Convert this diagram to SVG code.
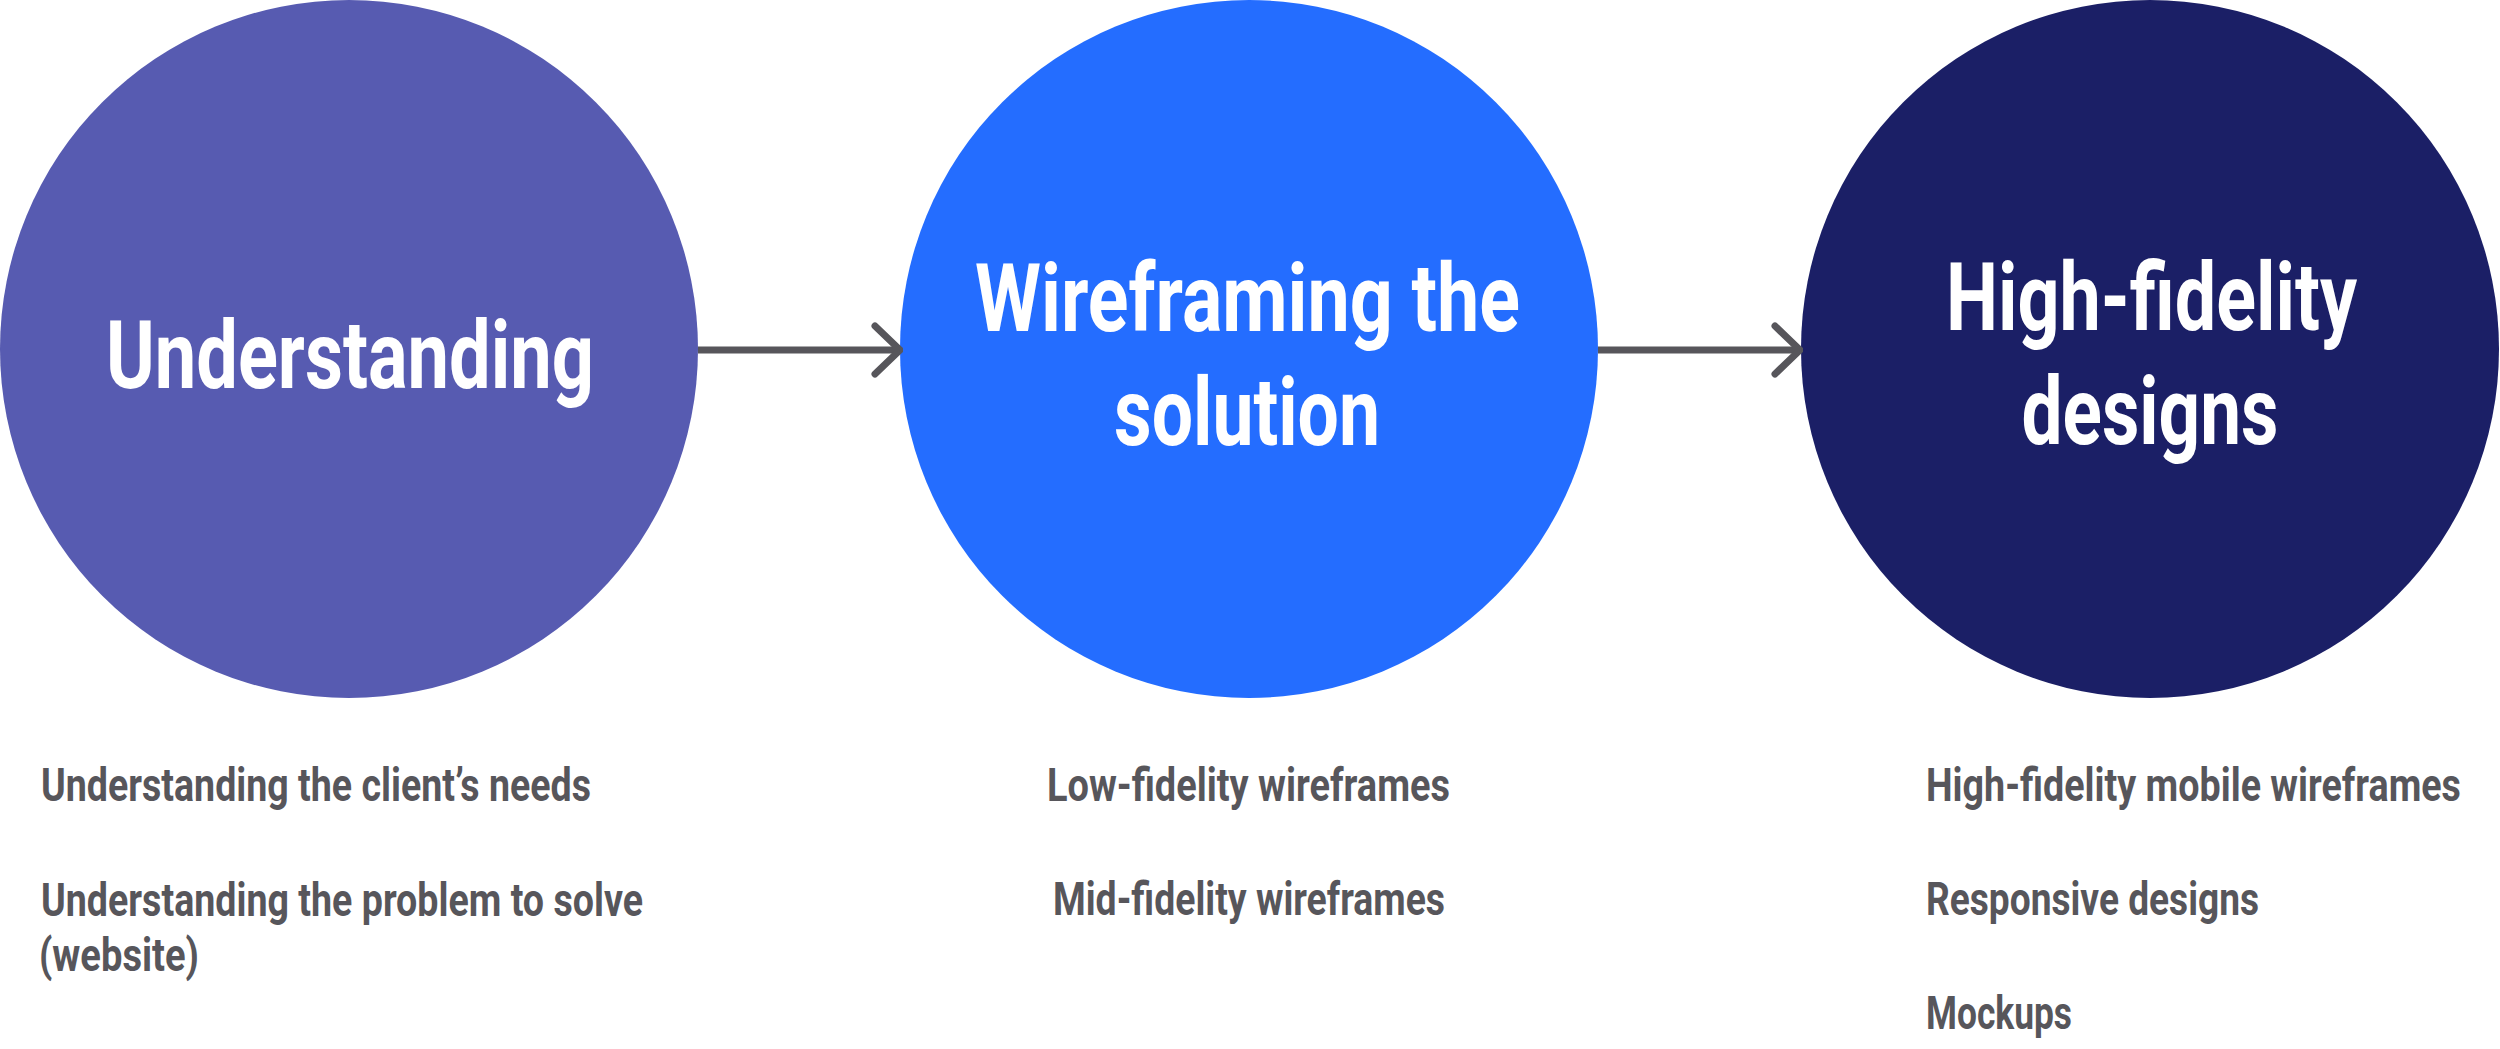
<svg xmlns="http://www.w3.org/2000/svg" width="2500" height="1049" viewBox="0 0 2500 1049">
  <style>
    .title { font-family: Roboto, "Liberation Sans", sans-serif; font-weight: 700; font-size: 94px; fill: #ffffff; text-anchor: middle; }
    .item { font-family: Roboto, "Liberation Sans", sans-serif; font-weight: 700; font-size: 46px; fill: #57565b; }
    .mid { text-anchor: middle; }
    .conn { fill: none; stroke: #57565b; stroke-width: 7; stroke-linecap: butt; }
  </style>
  <defs>
    <marker id="chev" viewBox="0 0 40 60" refX="37" refY="30" markerWidth="40" markerHeight="60" markerUnits="userSpaceOnUse" orient="auto">
      <path d="M12 6 L37 30 L12 54" fill="none" stroke="#57565b" stroke-width="7" stroke-linecap="round" stroke-linejoin="round"/>
    </marker>
  </defs>
  <rect width="2500" height="1049" fill="#ffffff"/>

  <g id="node-understanding">
    <circle cx="349" cy="349" r="349" fill="#575bb1"/>
    <text class="title" transform="translate(350,388) scale(0.72,1)" textLength="677.8" lengthAdjust="spacingAndGlyphs">Understanding</text>
    <text class="item" transform="translate(41,801) scale(0.75,1)" textLength="733.3" lengthAdjust="spacingAndGlyphs">Understanding the client’s needs</text>
    <text class="item" transform="translate(41,916) scale(0.75,1)" textLength="802.7" lengthAdjust="spacingAndGlyphs">Understanding the problem to solve</text>
    <text class="item" transform="translate(39,971) scale(0.75,1)" textLength="213.3" lengthAdjust="spacingAndGlyphs">(website)</text>
  </g>

  <g id="node-wireframing">
    <circle cx="1249" cy="349" r="349" fill="#246dff"/>
    <text class="title" transform="translate(1247.5,331) scale(0.72,1)" textLength="756.9" lengthAdjust="spacingAndGlyphs">Wireframing the</text>
    <text class="title" transform="translate(1247,445) scale(0.72,1)" textLength="369.4" lengthAdjust="spacingAndGlyphs">solution</text>
    <text class="item mid" transform="translate(1248.5,801) scale(0.75,1)" textLength="537.3" lengthAdjust="spacingAndGlyphs">Low-fidelity wireframes</text>
    <text class="item mid" transform="translate(1249,915) scale(0.75,1)" textLength="522.7" lengthAdjust="spacingAndGlyphs">Mid-fidelity wireframes</text>
  </g>

  <g id="node-hifi">
    <circle cx="2150" cy="349" r="349" fill="#1b1f66"/>
    <text class="title" transform="translate(2151.5,330) scale(0.72,1)" textLength="570.8" lengthAdjust="spacingAndGlyphs">High-fidelity</text>
    <text class="title" transform="translate(2150,444) scale(0.72,1)" textLength="356.9" lengthAdjust="spacingAndGlyphs">designs</text>
    <text class="item" transform="translate(1926,801) scale(0.75,1)" textLength="713.3" lengthAdjust="spacingAndGlyphs">High-fidelity mobile wireframes</text>
    <text class="item" transform="translate(1926,915) scale(0.75,1)" textLength="444" lengthAdjust="spacingAndGlyphs">Responsive designs</text>
    <text class="item" transform="translate(1926,1029) scale(0.75,1)" textLength="194.7" lengthAdjust="spacingAndGlyphs">Mockups</text>
  </g>

  <g id="connectors">
    <path class="conn" d="M698 350 L900 350" marker-end="url(#chev)"/>
    <path class="conn" d="M1598 350 L1800 350" marker-end="url(#chev)"/>
  </g>
</svg>
